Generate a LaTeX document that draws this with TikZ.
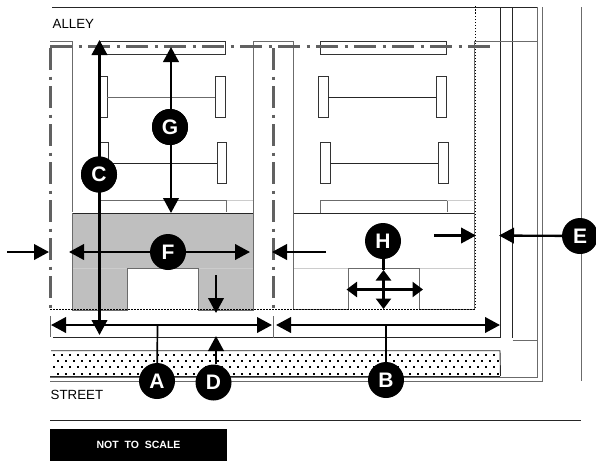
\documentclass[tikz,border=0pt]{standalone}
\usepackage{fontspec}
\setmainfont{Liberation Sans}
\usetikzlibrary{arrows.meta}
\definecolor{lotgray}{gray}{0.75}
\definecolor{midgray}{gray}{0.42}
\definecolor{dashgray}{gray}{0.38}
\definecolor{lightg}{gray}{0.8}
\tikzset{
  x=1pt,y=-1pt,
  ln/.style={line width=0.9pt,draw=black!85},
  gl/.style={line width=1pt,draw=midgray},
  lg/.style={line width=0.8pt,draw=lightg},
  cen/.style={line width=3pt,draw=dashgray,dash pattern=on 22pt off 6.5pt on 3pt off 6.5pt},
  dot/.style={line width=0.8pt,draw=black,dash pattern=on 1.5pt off 1.5pt},
  pad/.style={line width=0.9pt,draw=black!80,fill=white},
  badge/.style={circle,fill=black,text=white,inner sep=0pt,minimum size=36pt,font=\fontsize{21}{21}\selectfont\bfseries},
  big/.style={line width=2.3pt,draw=black,-{Triangle[length=15pt,width=15.5pt]}},
  bigb/.style={line width=2.3pt,draw=black,{Triangle[length=15pt,width=15.5pt]}-{Triangle[length=15pt,width=15.5pt]}},
  small/.style={line width=2.8pt,draw=black,{Triangle[length=10.5pt,width=15pt]}-{Triangle[length=10.5pt,width=15pt]}},
  stem/.style={line width=1.7pt,draw=black},
  lbl/.style={anchor=base west,inner sep=0pt,font=\fontsize{13.3}{14}\selectfont}
}
\begin{document}
\begin{tikzpicture}
\useasboundingbox (0,0) rectangle (596,461);
% building masses
\fill[lotgray] (72,213) -- (253,213) -- (253,310) -- (198,310) -- (198,268) -- (127,268) -- (127,310) -- (72,310) -- cycle;
\draw[lg] (72,268) -- (127,268) (198,268) -- (253,268) (419,268) -- (474,268) (293,268) -- (348,268);
\draw[ln] (72,213) -- (253,213) (293,213) -- (474,213);
\draw[gl] (72,213) -- (72,310) -- (127,310) -- (127,268) -- (198,268) -- (198,310) -- (253,310) -- (253,213);
\draw[gl] (293,213) -- (293,309) -- (348,309) -- (348,268) -- (419,268) -- (419,309) -- (474,309) -- (474,42);
\draw[dot] (50,309) -- (475,309) -- (475,5);
% frame lines
\draw[ln] (52,7) -- (537,7);
\draw[gl] (537.7,7) -- (537.7,377) -- (50,377);
\draw[gl] (542,7) -- (542,381) -- (50,381);
\draw[gl] (581,7) -- (581,381);
\draw[ln] (500,7) -- (500,337) -- (53,337);
\draw[ln] (512.7,7) -- (512.7,338);
\draw[gl] (512.7,340) -- (538,340);
\draw[gl] (474,41.7) -- (537,41.7);
\draw[ln] (50,420) -- (581,420);
\draw[gl] (50,316) -- (50,337);
\draw[gl] (273,316) -- (273,338);
% lot lines
\draw[gl] (50,41.5) -- (72,41.5);
\draw[gl] (72,41) -- (72,212);
\draw[gl] (253,41) -- (253,213);
\draw[gl] (253,41) -- (293,41);
\draw[gl] (293,41) -- (293,213);
% parking strips
\draw[pad] (100,41) rectangle (225,54);
\draw[pad] (320,41) rectangle (446,54);
\draw[pad] (98,76) rectangle (107,117);
\draw[pad] (215,76) rectangle (225,117);
\draw[gl] (107,97) -- (215,97);
\draw[pad] (99,142) rectangle (108,183);
\draw[pad] (217,142) rectangle (226,183);
\draw[ln] (108,163) -- (217,163);
\draw[pad] (318.5,76) rectangle (328,117);
\draw[pad] (436,76) rectangle (446,117);
\draw[ln] (328,97) -- (436,97);
\draw[pad] (320,142) rectangle (330,183);
\draw[pad] (438,142) rectangle (448,183);
\draw[ln] (330,163) -- (438,163);
\draw[gl] (100,200) -- (226.5,200) (226.5,200) -- (226.5,212);
\draw[gl] (320,213) -- (320,200) -- (447,200) -- (447,212);
\draw[lg] (226.5,200) -- (253,200) (447,200) -- (475,200);
% dash-dot setback lines
\draw[cen] (50,46) -- (494,46);
\draw[cen] (50.5,48) -- (50.5,310);
\draw[cen] (273,48) -- (273,310);
% sidewalk
\draw[ln] (51,350.7) -- (500,350.7) -- (500.5,376);
\foreach \r/\yy in {0/355,1/361,2/367,3/374}{
  \foreach \i in {0,...,55}{
    \pgfmathsetmacro{\xx}{54+\i*8+mod(\r,2)*4}
    \fill (\xx-1.1,\yy-1.1) rectangle +(2.2,2.2);
  }
}
\draw[ln] (50,376.7) -- (500,376.7);
% labels
\node[lbl] (alley) at (52.5,28) {ALLEY};
\node[lbl] (street) at (50.5,399) {STREET};
\node[fill=black,text=white,minimum width=177pt,minimum height=32pt,inner sep=0pt,font=\fontsize{10.5}{10.5}\selectfont\bfseries] (nts) at (138.5,445) {NOT\hspace{3pt} TO\hspace{3pt} SCALE};
% badges
\node[badge] (A) at (157,381) {A};
\node[badge] (B) at (386,380) {B};
\node[badge] (C) at (99,174.5) {C};
\node[badge] (D) at (213.5,382.5) {D};
\node[badge] (E) at (580,236) {E};
\node[badge] (F) at (168,252) {F};
\node[badge] (G) at (170,127) {G};
\node[badge] (H) at (383,241) {H};
% free ends
\coordinate (ct) at (99.5,40);
\coordinate (cb) at (99.5,335);
\coordinate (gt) at (171,47);
\coordinate (gb) at (171,213);
\coordinate (fl) at (69,252);
\coordinate (fr) at (250,252);
\coordinate (la) at (7,252);
\coordinate (lb) at (49,252);
\coordinate (ra) at (326,252);
\coordinate (rb) at (272,252);
\coordinate (al) at (51,325);
\coordinate (ar) at (272,325);
\coordinate (am) at (157.5,325);
\coordinate (bl) at (276,325);
\coordinate (br) at (500,325);
\coordinate (bm) at (386,325);
\coordinate (dt) at (216,336);
\coordinate (sa) at (216,275);
\coordinate (sb) at (216,313);
\coordinate (et) at (499,235.5);
\coordinate (ia) at (434,235.5);
\coordinate (ib) at (476,235.5);
\coordinate (hl) at (346.5,289.5);
\coordinate (hr) at (423,289.5);
\coordinate (ht) at (383.5,270);
\coordinate (hb) at (383.5,309);
% connectors
\draw[stem] (am) -- (A);
\draw[stem] (bm) -- (B);
\draw[big] (99.5,174.5) -- (ct);
\draw[big] (99.5,174.5) -- (cb);
\draw[big] (171,127) -- (gt);
\draw[big] (171,127) -- (gb);
\draw[big] (F) -- (fl);
\draw[big] (F) -- (fr);
\draw[big] (la) -- (lb);
\draw[big] (ra) -- (rb);
\draw[bigb] (al) -- (ar);
\draw[bigb] (bl) -- (br);
\draw[big] (D.north -| dt) -- (dt);
\draw[big] (sa) -- (sb);
\draw[big] (E) -- (et);
\draw[big] (ia) -- (ib);
\draw[small] (hl) -- (hr);
\draw[small] (ht) -- (hb);
\draw[stem,line width=2.3pt] (H.south -| ht) -- (ht);
\node[badge] at (C) {C};
\node[badge] at (G) {G};
\end{tikzpicture}
\end{document}
